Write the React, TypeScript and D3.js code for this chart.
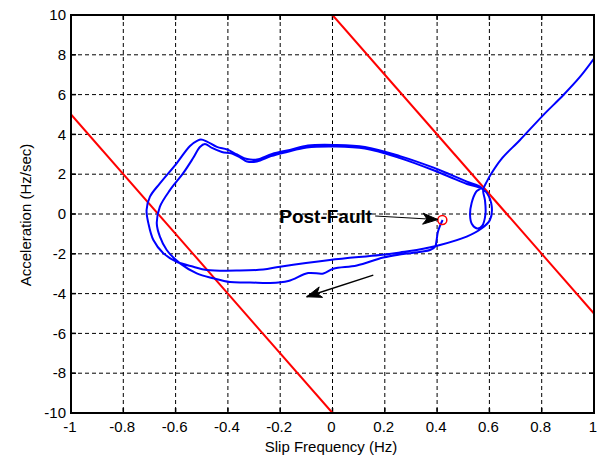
import React from "react";
import * as d3 from "d3";

const width = 597;
const height = 456;
const margin = { top: 15, right: 3, bottom: 43, left: 71 };

const xTicks = [-1, -0.8, -0.6, -0.4, -0.2, 0, 0.2, 0.4, 0.6, 0.8, 1];
const yTicks = [-10, -8, -6, -4, -2, 0, 2, 4, 6, 8, 10];

// stability boundary lines (red)
const boundaryLeft: [number, number][] = [[-1, 5], [0, -10]];
const boundaryRight: [number, number][] = [[0, 10], [1, -5]];

// post-fault trajectory (blue): slip frequency vs acceleration
const slip = [
  0.421, 0.411, 0.403, 0.398, 0.392, 0.373,
  0.27, 0.194, 0.093, 0.003, -0.035, -0.093, -0.169, -0.239, -0.315, -0.392,
  -0.456, -0.519, -0.583, -0.634, -0.66, -0.672, -0.66, -0.621, -0.571, -0.533, -0.507, -0.488,
  -0.461, -0.423, -0.384, -0.35, -0.327, -0.289, -0.235, -0.174, -0.098, 0.01, 0.124, 0.258, 0.384, 0.449, 0.514, 0.571,
  0.591, 0.609, 0.602, 0.571, 0.513, 0.411, 0.322, 0.258,
  0.182, -0.01, -0.201, -0.265, -0.354, -0.481, -0.532, -0.596, -0.647, -0.685, -0.704, -0.711, -0.698, -0.66, -0.596, -0.545, -0.518, -0.503,
  -0.48, -0.442, -0.403, -0.365, -0.327, -0.289, -0.231, -0.163, -0.094, 0.01, 0.124, 0.258, 0.384, 0.449, 0.514, 0.568,
  0.549, 0.532, 0.526, 0.533, 0.553, 0.572, 0.585, 0.583, 0.576,
  0.589, 0.608, 0.645, 0.717, 0.806, 0.883, 0.947, 1.0,
];
const accel = [
  -0.3, -0.6, -0.9, -1.31, -1.66, -1.81,
  -2.01, -2.19, -2.59, -2.75, -2.99, -2.97, -3.37, -3.47, -3.44, -3.42,
  -3.23, -2.98, -2.48, -1.81, -1.14, -0.47, 0.37, 1.21, 2.05, 2.81, 3.37, 3.52,
  3.32, 3.12, 3.04, 2.81, 2.64, 2.64, 2.91, 3.12, 3.34, 3.39, 3.29, 2.81, 2.21, 1.86, 1.51, 1.28,
  1.04, 0.37, -0.3, -0.72, -1.14, -1.56, -1.81, -1.93,
  -2.06, -2.31, -2.65, -2.79, -2.84, -2.81, -2.65, -2.4, -1.97, -1.31, -0.47, 0.2, 0.87, 1.54, 2.55, 3.42, 3.67, 3.74,
  3.64, 3.37, 3.24, 2.99, 2.76, 2.74, 3.02, 3.22, 3.44, 3.47, 3.37, 2.91, 2.34, 1.99, 1.63, 1.33,
  1.11, 0.55, -0.05, -0.5, -0.73, -0.6, 0.0, 0.7, 1.21,
  1.6, 2.05, 2.75, 3.72, 4.97, 5.98, 6.9, 7.81,
];

const postFault: [number, number] = [0.42, -0.3];
const postFaultArrow: [number, number][] = [[0.163, -0.1], [0.403, -0.28]];
const directionArrow: [number, number][] = [[0.156, -3.07], [-0.099, -4.16]];

const font = "'Liberation Sans', Arial, Helvetica, sans-serif";

const x = d3.scaleLinear().domain([-1, 1]).range([margin.left, width - margin.right]);
const y = d3.scaleLinear().domain([-10, 10]).range([height - margin.bottom, margin.top]);

const fmt = (v: number) => String(+v.toFixed(1));

// arrow head like matlab's annotation (with notch at the back)
function arrowHead(p0: [number, number], p1: [number, number]) {
  const x0 = x(p0[0]), y0 = y(p0[1]);
  const x1 = x(p1[0]), y1 = y(p1[1]);
  const a = Math.atan2(y1 - y0, x1 - x0);
  const L = 15, w = 5.5, notch = 4;
  const pt = (dx: number, dy: number) => [
    x1 + dx * Math.cos(a) - dy * Math.sin(a),
    y1 + dx * Math.sin(a) + dy * Math.cos(a),
  ];
  return [pt(0, 0), pt(-L, w), pt(-L + notch, 0), pt(-L, -w)].map((p) => p.join(",")).join(" ");
}

const App = () => {
  const pts: [number, number][] = slip.map((s, i) => [s, accel[i]]);
  const line = d3.line<[number, number]>().x((d) => x(d[0])).y((d) => y(d[1]));
  const traj = d3
    .line<[number, number]>()
    .x((d) => x(d[0]))
    .y((d) => y(d[1]))
    .curve(d3.curveCatmullRom.alpha(0.5));

  const [x0, x1] = x.range();
  const [y0, y1] = y.range();

  return (
    <svg
      width={width}
      height={height}
      style={{ position: "absolute", left: 0, top: 0, background: "#fff" }}
      fontFamily={font}
    >
      <defs>
        <clipPath id="plot">
          <rect x={x0} y={y1} width={x1 - x0} height={y0 - y1} />
        </clipPath>
      </defs>

      {/* grid */}
      <g stroke="#000" strokeWidth={1} strokeDasharray="4,3">
        {xTicks.slice(1, -1).map((t) => (
          <line key={"gx" + t} x1={x(t)} x2={x(t)} y1={y1} y2={y0} />
        ))}
        {yTicks.slice(1, -1).map((t) => (
          <line key={"gy" + t} x1={x0} x2={x1} y1={y(t)} y2={y(t)} />
        ))}
      </g>

      {/* ticks on all sides, inward */}
      <g stroke="#000" strokeWidth={1.5}>
        {xTicks.map((t) => (
          <g key={"tx" + t}>
            <line x1={x(t)} x2={x(t)} y1={y0} y2={y0 - 5} />
            <line x1={x(t)} x2={x(t)} y1={y1} y2={y1 + 5} />
          </g>
        ))}
        {yTicks.map((t) => (
          <g key={"ty" + t}>
            <line x1={x0} x2={x0 + 5} y1={y(t)} y2={y(t)} />
            <line x1={x1} x2={x1 - 5} y1={y(t)} y2={y(t)} />
          </g>
        ))}
      </g>

      <g clipPath="url(#plot)" fill="none">
        <path d={line(boundaryLeft) || ""} stroke="#ff0000" strokeWidth={2} />
        <path d={line(boundaryRight) || ""} stroke="#ff0000" strokeWidth={2} />
        <path d={traj(pts) || ""} stroke="#0000ff" strokeWidth={2} strokeLinejoin="round" />
        <circle cx={x(postFault[0])} cy={y(postFault[1])} r={4.5} stroke="#ff0000" strokeWidth={1.5} />
      </g>

      {/* annotations */}
      <g stroke="#000" strokeWidth={1}>
        <line
          x1={x(postFaultArrow[0][0])}
          y1={y(postFaultArrow[0][1])}
          x2={x(postFaultArrow[1][0])}
          y2={y(postFaultArrow[1][1])}
        />
        <polygon points={arrowHead(postFaultArrow[0], postFaultArrow[1])} fill="#000" />
        <line
          x1={x(directionArrow[0][0])}
          y1={y(directionArrow[0][1])}
          x2={x(directionArrow[1][0])}
          y2={y(directionArrow[1][1])}
          strokeWidth={1.5}
        />
        <polygon points={arrowHead(directionArrow[0], directionArrow[1])} fill="#000" />
      </g>
      <text
        x={x(postFaultArrow[0][0]) - 3}
        y={y(postFaultArrow[0][1])}
        dy="0.35em"
        textAnchor="end"
        fontSize={19}
        fontWeight="bold"
      >
        Post-Fault
      </text>

      {/* frame */}
      <rect x={x0} y={y1} width={x1 - x0} height={y0 - y1} fill="none" stroke="#000" strokeWidth={2} />

      {/* tick labels */}
      <g fontSize={15} fill="#000">
        {xTicks.map((t) => (
          <text key={"lx" + t} x={x(t) - 1} y={432} textAnchor="middle">
            {fmt(t)}
          </text>
        ))}
        {yTicks.map((t) => (
          <text key={"ly" + t} x={66} y={y(t)} dy="0.35em" textAnchor="end">
            {fmt(t)}
          </text>
        ))}
      </g>

      <text x={331} y={452} fontSize={15} textAnchor="middle">
        Slip Frequency (Hz)
      </text>
      <text transform="translate(31,215) rotate(-90)" fontSize={15} textAnchor="middle">
        Acceleration (Hz/sec)
      </text>
    </svg>
  );
};

export default App;
